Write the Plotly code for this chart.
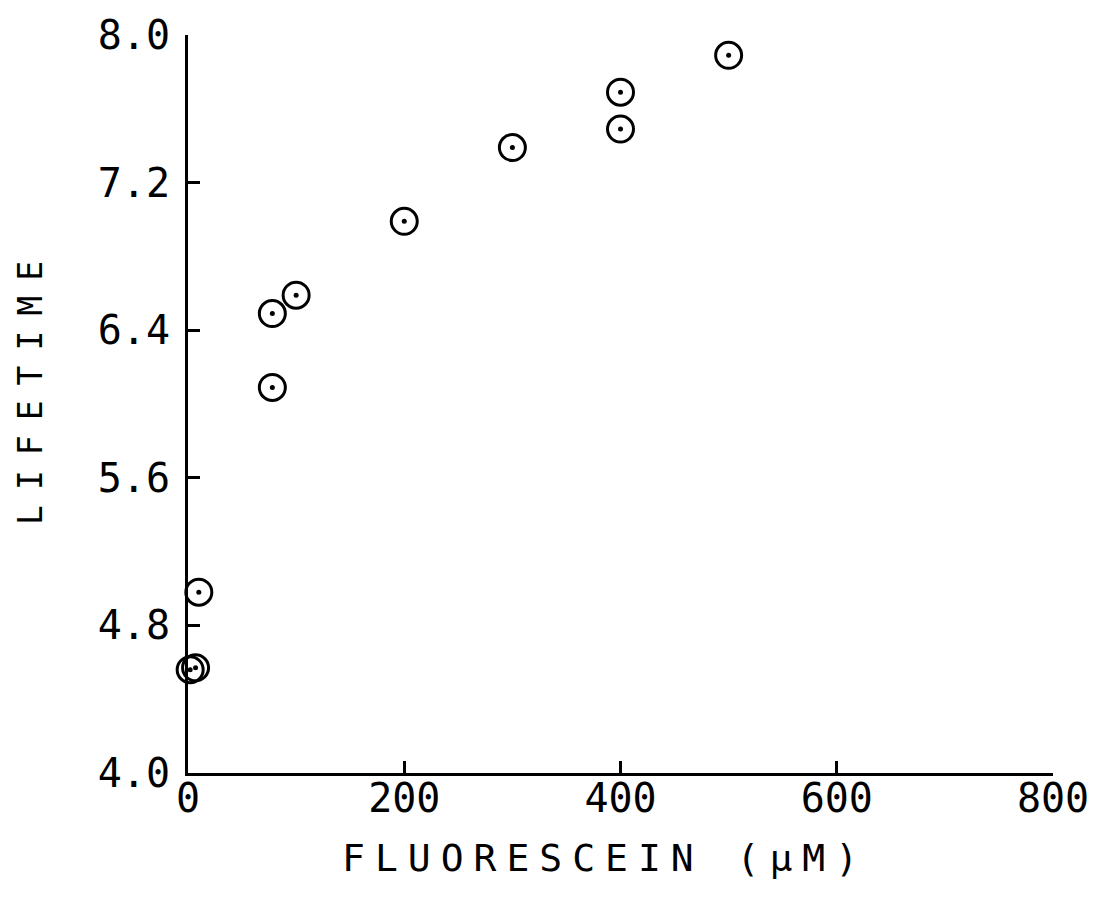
import plotly.graph_objects as go

# Data
fluorescein_uM = [2, 7, 10, 78, 78, 100, 200, 300, 400, 400, 500]
lifetime = [4.56, 4.57, 4.98, 6.09, 6.49, 6.59, 6.99, 7.39, 7.49, 7.69, 7.89]

x_ticks = [0, 200, 400, 600, 800]
y_ticks = [4.0, 4.8, 5.6, 6.4, 7.2, 8.0]
y_ticktext = ["4.0", "4.8", "5.6", "6.4", "7.2", "8.0"]

x_title = "FLUORESCEIN (μM)"
y_title = "LIFETIME"

FONT = "DejaVu Sans Mono"

fig = go.Figure()
fig.add_trace(go.Scatter(
    x=fluorescein_uM, y=lifetime, mode="markers",
    marker=dict(symbol="circle-open", size=26, color="black",
                line=dict(width=3, color="black")),
    cliponaxis=False, showlegend=False,
))
fig.add_trace(go.Scatter(
    x=fluorescein_uM, y=lifetime, mode="markers",
    marker=dict(symbol="circle", size=5, color="black"),
    cliponaxis=False, showlegend=False,
))

axis_common = dict(
    showline=True, linewidth=3, linecolor="black",
    ticks="inside", ticklen=12, tickwidth=3, tickcolor="black",
    showgrid=False, zeroline=False,
    tickfont=dict(family=FONT, size=40, color="black"),
)

fig.update_xaxes(range=[0, 800], tickvals=x_ticks, ticklabelstandoff=-12, **axis_common)
fig.update_yaxes(range=[4, 8], tickvals=y_ticks, ticktext=y_ticktext,
                 ticklabelstandoff=7, **axis_common)

fig.add_annotation(
    text='<span style="letter-spacing:10px">%s</span>' % x_title,
    xref="paper", yref="paper", x=0.482, y=-0.1147,
    xanchor="center", yanchor="middle", showarrow=False,
    font=dict(family=FONT, size=38, color="black"),
)
fig.add_annotation(
    text='<span style="letter-spacing:15px">%s</span>' % y_title,
    xref="paper", yref="paper", x=-0.1822, y=0.525,
    xanchor="center", yanchor="middle", showarrow=False, textangle=-90,
    font=dict(family=FONT, size=33, color="black"),
)

fig.update_layout(
    width=1101, height=912,
    margin=dict(l=188, r=46, t=32, b=139),
    paper_bgcolor="white", plot_bgcolor="white",
)

fig.write_html("out.html")
